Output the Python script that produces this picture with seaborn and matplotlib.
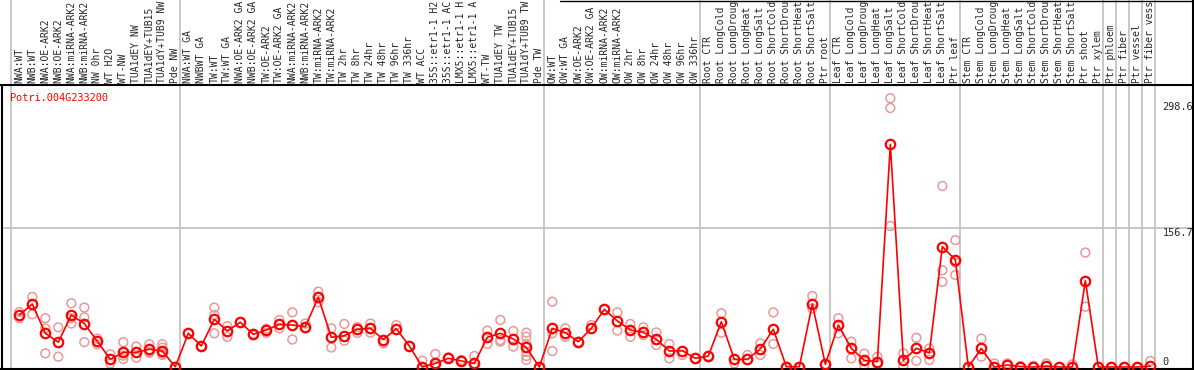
import numpy as np
import pandas as pd
import matplotlib
matplotlib.use("Agg")
import matplotlib.pyplot as plt
import seaborn as sns

# sample labels (one per column), in display order
labels = [
    "NWA:WT", "NWB:WT", "NWA:OE-ARK2", "NWB:OE-ARK2", "NWA:miRNA-ARK2", "NWB:miRNA-ARK2",
    "NW 0hr", "WT H2O", "WT-NW", "TUA1dEY NW", "TUA1dEY+TUB15 NW", "TUA1dY+TUB9 NW", "Pde NW",
    "NWA:WT GA", "NWBWT GA", "TW:WT", "TW:WT GA", "NWA:OE-ARK2 GA", "NWB:OE-ARK2 GA",
    "TW:OE-ARK2", "TW:OE-ARK2 GA", "NWA:miRNA-ARK2", "NWB:miRNA-ARK2", "TW:miRNA-ARK2",
    "TW:miRNA-ARK2", "TW 2hr", "TW 8hr", "TW 24hr", "TW 48hr", "TW 96hr", "TW 336hr",
    "WT ACC", "35S::etr1-1 H2O", "35S::etr1-1 ACC", "LMX5::etr1-1 H2O", "LMX5::etr1-1 ACC",
    "WT-TW", "TUA1dEY TW", "TUA1dEY+TUB15 TW", "TUA1dY+TUB9 TW", "Pde TW",
    "OW:WT", "OW:WT GA", "OW:OE-ARK2", "OW:OE-ARK2 GA", "OW:miRNA-ARK2", "OW:miRNA-ARK2",
    "OW 2hr", "OW 8hr", "OW 24hr", "OW 48hr", "OW 96hr", "OW 336hr",
    "Root CTR", "Root LongCold", "Root LongDrought", "Root LongHeat", "Root LongSalt",
    "Root ShortCold", "Root ShortDrought", "Root ShortHeat", "Root ShortSalt", "Ptr root",
    "Leaf CTR", "Leaf LongCold", "Leaf LongDrought", "Leaf LongHeat", "Leaf LongSalt",
    "Leaf ShortCold", "Leaf ShortDrought", "Leaf ShortHeat", "Leaf ShortSalt", "Ptr leaf",
    "Stem CTR", "Stem LongCold", "Stem LongDrought", "Stem LongHeat", "Stem LongSalt",
    "Stem ShortCold", "Stem ShortDrought", "Stem ShortHeat", "Stem ShortSalt", "Ptr shoot",
    "Ptr xylem", "Ptr phloem", "Ptr fiber", "Ptr vessel", "Ptr fiber vessel",
]

# mean expression per sample
means = [
    58.6, 71, 38, 28, 58.6, 49, 29, 8.6, 16.5, 16.5, 20, 18, 0.3,
    38, 23.7, 53.8, 40.6, 50.4, 36.8, 41.7, 48, 47.3, 45.5, 78.6, 33.5,
    35.3, 42.5, 43.6, 31, 43.2, 23.7, 0, 4, 9.8, 6.8, 4, 33.5, 38, 31.6, 22, 0,
    43.6, 38.7, 28.5, 43.6, 65, 51.9, 41.7, 39, 31.2, 18, 18.4, 9.8,
    12.4, 51, 8.6, 8.6, 20.5, 42.5, 0.3, 0.3, 71, 3,
    47.3, 21, 7.5, 6, 251, 7.5, 21, 16, 135.6, 121,
    0, 21, 0, 2.3, 0.5, 0, 1, 0, 0, 97.3,
    0, 0, 0, 0, 1,
]

# individual replicates per sample
replicates = [
    [62, 55], [79, 59.4], [55, 43.6, 15.4], [44.7, 11.6], [71.8, 55, 49], [67, 56, 28],
    [32, 25.6], [14.3, 4], [28, 12.8, 9], [23, 10.5], [25.6, 17.3, 16], [25.6, 21.8, 13.5, 15],
    [0],
    [38], [23.7], [67, 58.6, 38], [46, 34], [50.4], [37.5, 36], [43, 38.5], [53, 43.6],
    [61.6, 31], [49, 43.6], [85, 73], [43.6, 22], [48.5, 29.7], [45, 38.5], [49, 38.7],
    [26.7], [47.3], [23.7], [7], [14.6, 1.5], [11], [8], [12.4, 0],
    [41, 26], [53, 30.4, 28.5], [40.6, 23], [38.7, 34, 26, 17, 12.4, 8], [0],
    [73.6, 38, 18], [43.6, 34], [28.5], [47.3], [65], [61.6, 41], [48.5, 34], [44.7, 36],
    [39, 24.8], [26, 9.8], [13.5], [9.8],
    [12.4], [60.5, 38.7], [4], [13.5], [26.7, 13.5], [61.6, 26], [0.3], [0.3], [80, 66], [3],
    [55, 38], [28.5, 9.8], [15, 2], [11.6, 3], [303, 292, 159], [15.4, 1], [33, 7], [21, 8],
    [204, 109, 96], [143, 118, 103.7],
    [0], [32, 11.6], [4], [4], [1], [1.3], [4], [0], [3], [129, 68],
    [0], [0], [0], [0], [6.8],
]

gene = "Potri.004G233200"
tick_values = [0, 156.7, 298.6]
group_ends = [-1, 12, 40, 52, 62, 72, 83, 84, 85, 86, 87]

x = np.arange(len(labels))
mean_df = pd.DataFrame({"x": x, "value": means})
rep_df = pd.DataFrame(
    [(i, v) for i, reps in enumerate(replicates) for v in reps], columns=["x", "value"]
)
# the sample header only has room for 14 characters
shown_labels = [lab[:14].rstrip() for lab in labels]

sns.set_style("white")
plt.rcParams["font.family"] = ["DejaVu Sans Mono"]

fig = plt.figure(figsize=(11.94, 3.70), dpi=100)
ax = fig.add_axes([1.5 / 1194, 1 / 370, 1191.5 / 1194, 284 / 370])

# group separators, running up through the label area
for g in group_ends:
    ax.axvline(g + 0.38, ymin=0, ymax=1.31, color="#c4c4c4", lw=1.3,
               clip_on=False, zorder=0)
ax.axhline(156.7, color="#c4c4c4", lw=1.3, zorder=0)

# frame bits of the header on the right
fig.add_artist(plt.Line2D([1192.5 / 1194, 1192.5 / 1194], [285 / 370, 1],
                          color="black", lw=1.5, transform=fig.transFigure))
fig.add_artist(plt.Line2D([560 / 1194, 1], [369.5 / 370, 369.5 / 370],
                          color="black", lw=1.0, transform=fig.transFigure))

sns.scatterplot(data=rep_df, x="x", y="value", ax=ax, marker="o", s=40,
                facecolor="none", edgecolor="#e89999", linewidth=1.1, zorder=2)
sns.lineplot(data=mean_df, x="x", y="value", ax=ax, color="red", lw=1.2,
             marker="o", markersize=6.8, markerfacecolor="none",
             markeredgecolor="red", markeredgewidth=1.6, zorder=3)

ax.set_xlim(-1.37, 90.28)
ax.set_ylim(-2.25, 317.9)
ax.set_xlabel("")
ax.set_ylabel("")

ax.set_xticks(x)
ax.set_xticklabels(shown_labels, rotation=90, fontsize=7.0, family="DejaVu Sans Mono")
ax.xaxis.tick_top()
ax.tick_params(axis="x", length=0, pad=1.5)

ax.set_yticks(tick_values)
ax.set_yticklabels([f"{v:g}" for v in tick_values], fontsize=7.4,
                   family="DejaVu Sans Mono")
ax.tick_params(axis="y", left=False, right=False, labelleft=False,
               labelright=True, length=0, pad=-22)
for lbl, v in zip(ax.get_yticklabels(), tick_values):
    lbl.set_va("bottom" if v == 0 else "top")

ax.text(0.007, 0.972, gene, transform=ax.transAxes, color="red",
        fontsize=7.4, va="top", ha="left", family="DejaVu Sans Mono")

for s in ax.spines.values():
    s.set_color("black")
    s.set_linewidth(1.5)

fig.savefig("out.png", dpi=100)
